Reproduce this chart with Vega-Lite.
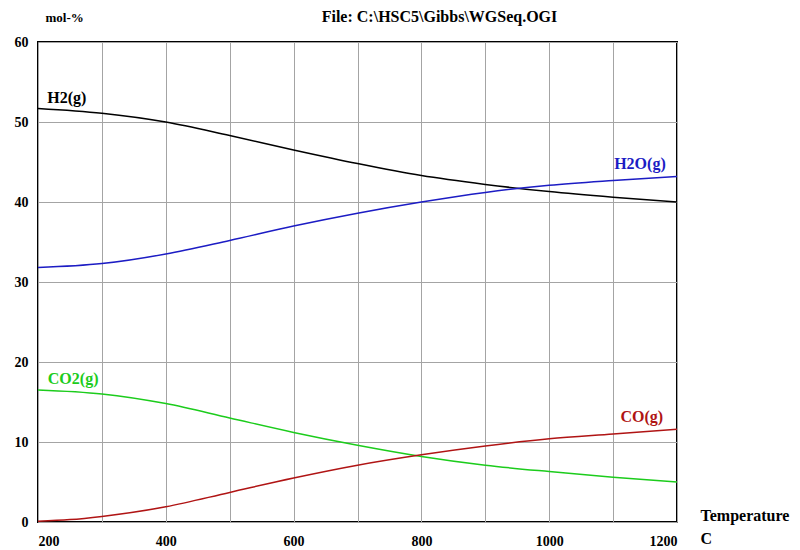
{
  "$schema": "https://vega.github.io/schema/vega-lite/v6.json",
  "width": 639,
  "height": 480,
  "autosize": {"type": "none"},
  "padding": {"left": 38, "top": 42, "right": 123, "bottom": 28},
  "background": "white",
  "title": {
    "text": "File: C:\\HSC5\\Gibbs\\WGSeq.OGI",
    "anchor": "middle",
    "dx": 82,
    "offset": -14,
    "font": "Liberation Serif",
    "fontSize": 16,
    "fontWeight": "bold",
    "color": "#000000"
  },
  "config": {
    "view": {"stroke": "#000000", "strokeWidth": 2},
    "axis": {
      "labelFont": "Liberation Serif",
      "labelFontSize": 14,
      "labelFontWeight": "bold",
      "labelColor": "#000000",
      "titleFont": "Liberation Serif",
      "titleFontSize": 13,
      "titleFontWeight": "bold",
      "titleColor": "#000000",
      "domain": false,
      "ticks": false,
      "gridColor": "#a4a4a4",
      "gridWidth": 1,
      "gridOpacity": 1
    }
  },
  "datasets": {
    "species": [
      {"T": 200, "mol": 51.7, "species": "H2(g)"},
      {"T": 300, "mol": 51.1, "species": "H2(g)"},
      {"T": 400, "mol": 50.0, "species": "H2(g)"},
      {"T": 500, "mol": 48.3, "species": "H2(g)"},
      {"T": 600, "mol": 46.5, "species": "H2(g)"},
      {"T": 700, "mol": 44.8, "species": "H2(g)"},
      {"T": 800, "mol": 43.3, "species": "H2(g)"},
      {"T": 900, "mol": 42.2, "species": "H2(g)"},
      {"T": 1000, "mol": 41.3, "species": "H2(g)"},
      {"T": 1100, "mol": 40.6, "species": "H2(g)"},
      {"T": 1200, "mol": 40.0, "species": "H2(g)"},
      {"T": 200, "mol": 31.8, "species": "H2O(g)"},
      {"T": 300, "mol": 32.3, "species": "H2O(g)"},
      {"T": 400, "mol": 33.5, "species": "H2O(g)"},
      {"T": 500, "mol": 35.2, "species": "H2O(g)"},
      {"T": 600, "mol": 37.0, "species": "H2O(g)"},
      {"T": 700, "mol": 38.6, "species": "H2O(g)"},
      {"T": 800, "mol": 40.0, "species": "H2O(g)"},
      {"T": 900, "mol": 41.2, "species": "H2O(g)"},
      {"T": 1000, "mol": 42.1, "species": "H2O(g)"},
      {"T": 1100, "mol": 42.7, "species": "H2O(g)"},
      {"T": 1200, "mol": 43.2, "species": "H2O(g)"},
      {"T": 200, "mol": 16.5, "species": "CO2(g)"},
      {"T": 300, "mol": 16.0, "species": "CO2(g)"},
      {"T": 400, "mol": 14.8, "species": "CO2(g)"},
      {"T": 500, "mol": 13.0, "species": "CO2(g)"},
      {"T": 600, "mol": 11.2, "species": "CO2(g)"},
      {"T": 700, "mol": 9.6, "species": "CO2(g)"},
      {"T": 800, "mol": 8.2, "species": "CO2(g)"},
      {"T": 900, "mol": 7.1, "species": "CO2(g)"},
      {"T": 1000, "mol": 6.3, "species": "CO2(g)"},
      {"T": 1100, "mol": 5.6, "species": "CO2(g)"},
      {"T": 1200, "mol": 5.0, "species": "CO2(g)"},
      {"T": 200, "mol": 0.1, "species": "CO(g)"},
      {"T": 250, "mol": 0.3, "species": "CO(g)"},
      {"T": 300, "mol": 0.7, "species": "CO(g)"},
      {"T": 400, "mol": 1.9, "species": "CO(g)"},
      {"T": 500, "mol": 3.7, "species": "CO(g)"},
      {"T": 600, "mol": 5.5, "species": "CO(g)"},
      {"T": 700, "mol": 7.1, "species": "CO(g)"},
      {"T": 800, "mol": 8.4, "species": "CO(g)"},
      {"T": 900, "mol": 9.5, "species": "CO(g)"},
      {"T": 1000, "mol": 10.4, "species": "CO(g)"},
      {"T": 1100, "mol": 11.0, "species": "CO(g)"},
      {"T": 1200, "mol": 11.6, "species": "CO(g)"}
    ],
    "labels": [
      {"T": 245, "mol": 53.0, "species": "H2(g)"},
      {"T": 1142, "mol": 44.8, "species": "H2O(g)"},
      {"T": 255, "mol": 17.9, "species": "CO2(g)"},
      {"T": 1145, "mol": 13.1, "species": "CO(g)"}
    ]
  },
  "encoding": {
    "x": {
      "field": "T",
      "type": "quantitative",
      "scale": {"domain": [200, 1200], "nice": false, "zero": false},
      "axis": {
        "values": [200, 300, 400, 500, 600, 700, 800, 900, 1000, 1100, 1200],
        "format": "d",
        "labelExpr": "datum.value % 200 == 0 ? datum.label : ''",
        "labelPadding": 12,
        "title": ["Temperature", "\u00a0\u00a0\u00a0\u00a0C"],
        "titleFontSize": 16,
        "titleAlign": "left",
        "titleAnchor": "end",
        "titleX": 662,
        "titleY": -7,
        "titleBaseline": "middle",
        "titleLineHeight": 23
      }
    },
    "y": {
      "field": "mol",
      "type": "quantitative",
      "scale": {"domain": [0, 60], "nice": false},
      "axis": {
        "values": [0, 10, 20, 30, 40, 50, 60],
        "labelPadding": 10,
        "title": "mol-%",
        "titleAngle": 0,
        "titleAlign": "left",
        "titleX": 7,
        "titleY": -25,
        "titleBaseline": "middle"
      }
    },
    "color": {
      "field": "species",
      "type": "nominal",
      "scale": {
        "domain": ["H2(g)", "H2O(g)", "CO2(g)", "CO(g)"],
        "range": ["#000000", "#1c1cc4", "#1ccc1c", "#b01414"]
      },
      "legend": null
    }
  },
  "layer": [
    {
      "data": {"name": "species"},
      "mark": {"type": "line", "interpolate": "monotone", "strokeWidth": 1.5}
    },
    {
      "data": {"name": "labels"},
      "mark": {
        "type": "text",
        "font": "Liberation Serif",
        "fontSize": 16,
        "fontWeight": "bold",
        "align": "center",
        "baseline": "middle"
      },
      "encoding": {
        "text": {"field": "species"}
      }
    }
  ]
}
